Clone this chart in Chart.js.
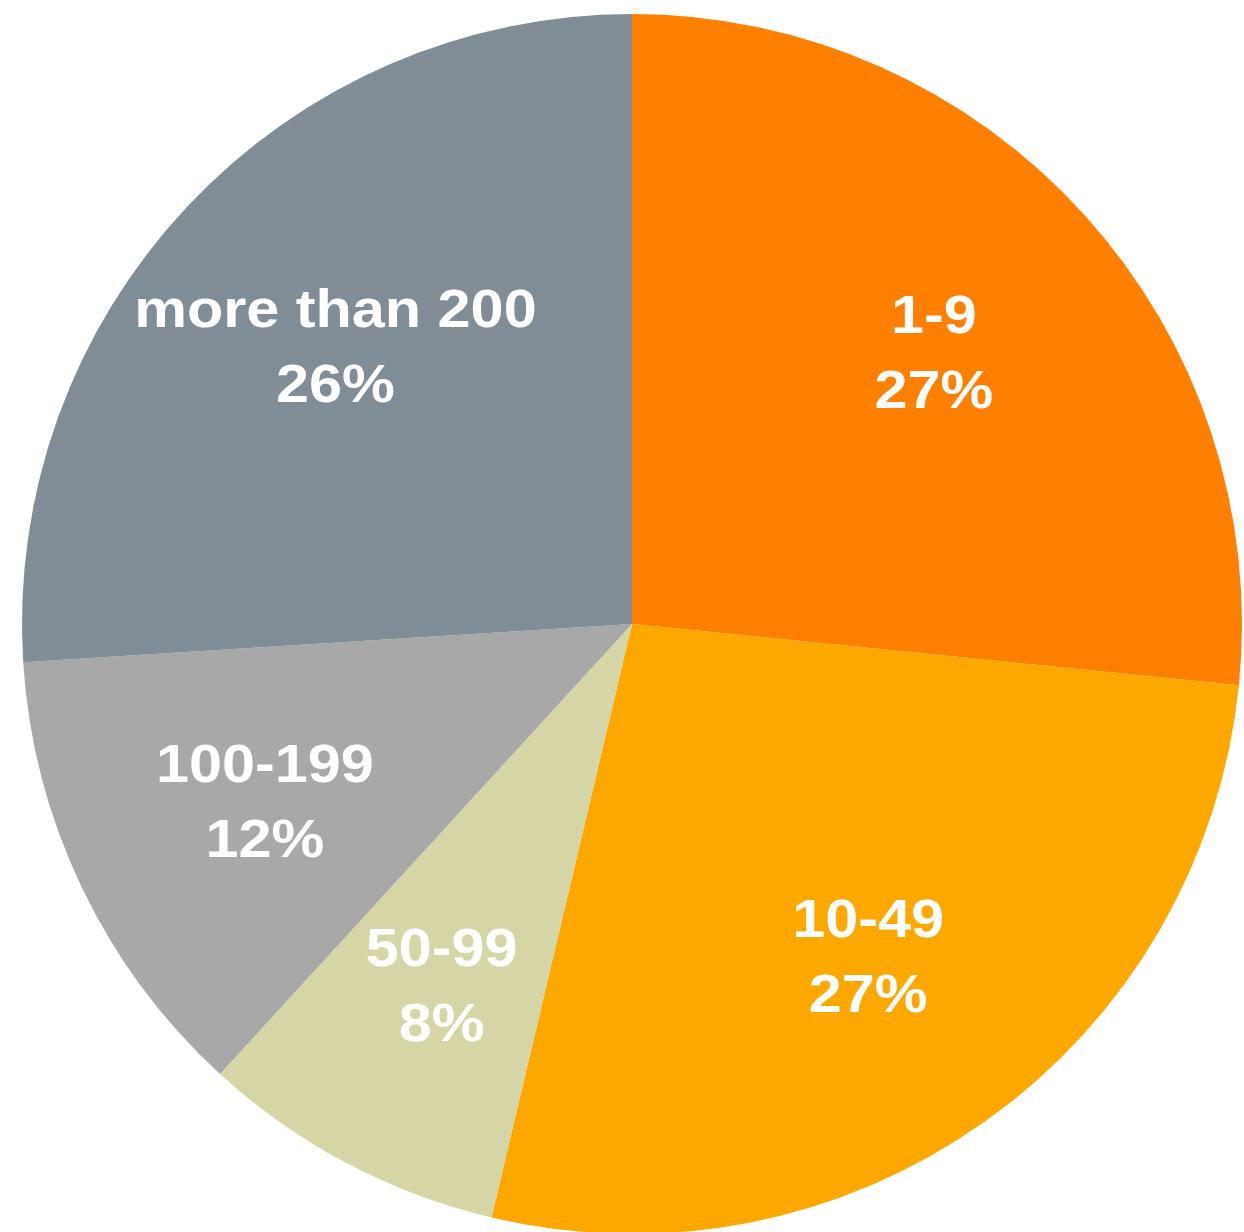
<!DOCTYPE html>
<html>
<head>
<meta charset="utf-8">
<script src="https://cdn.jsdelivr.net/npm/chart.js@4.4.1/dist/chart.umd.min.js"></script>
<style>
  html, body { margin: 0; padding: 0; background: #fff; overflow: hidden; }
  #chart { display: block; }
</style>
</head>
<body>
<canvas id="chart" width="1244" height="1240"></canvas>
<script>
const categories = ["1-9", "10-49", "50-99", "100-199", "more than 200"];
const shares = [26.6, 27.1, 8.1, 12.2, 26.0];
const colors = ["#FF7F00", "#FCA800", "#D5D5A5", "#A8A8A8", "#808C96"];

// draws "name / xx%" inside each slice
const sliceLabels = {
  id: "sliceLabels",
  afterDatasetsDraw(chart) {
    const ctx = chart.ctx;
    const meta = chart.getDatasetMeta(0);
    meta.data.forEach((arc, i) => {
      const p = arc.getProps(["x", "y", "startAngle", "endAngle", "outerRadius"], true);
      const mid = (p.startAngle + p.endAngle) / 2;
      const r = p.outerRadius * 0.667;
      const cx = p.x + Math.cos(mid) * r;
      const cy = p.y + Math.sin(mid) * r;
      ctx.save();
      ctx.translate(cx, cy);
      ctx.scale(1.12, 1); // the original face is a bit wider than Arial
      ctx.fillStyle = "#fff";
      ctx.font = "bold 53px 'Helvetica Neue', Helvetica, 'Liberation Sans', Arial, sans-serif";
      ctx.textAlign = "center";
      ctx.textBaseline = "alphabetic";
      ctx.fillText(categories[i], 0, -18);
      ctx.fillText(Math.round(shares[i]) + "%", 0, 57);
      ctx.restore();
    });
  }
};

new Chart(document.getElementById("chart").getContext("2d"), {
  type: "pie",
  data: {
    labels: categories,
    datasets: [{
      data: shares,
      backgroundColor: colors,
      borderWidth: 0
    }]
  },
  options: {
    responsive: false,
    animation: false,
    layout: { padding: { left: 22, right: 2, top: 14, bottom: 6 } },
    plugins: {
      legend: { display: false },
      tooltip: { enabled: false }
    }
  },
  plugins: [sliceLabels]
});
</script>
</body>
</html>
